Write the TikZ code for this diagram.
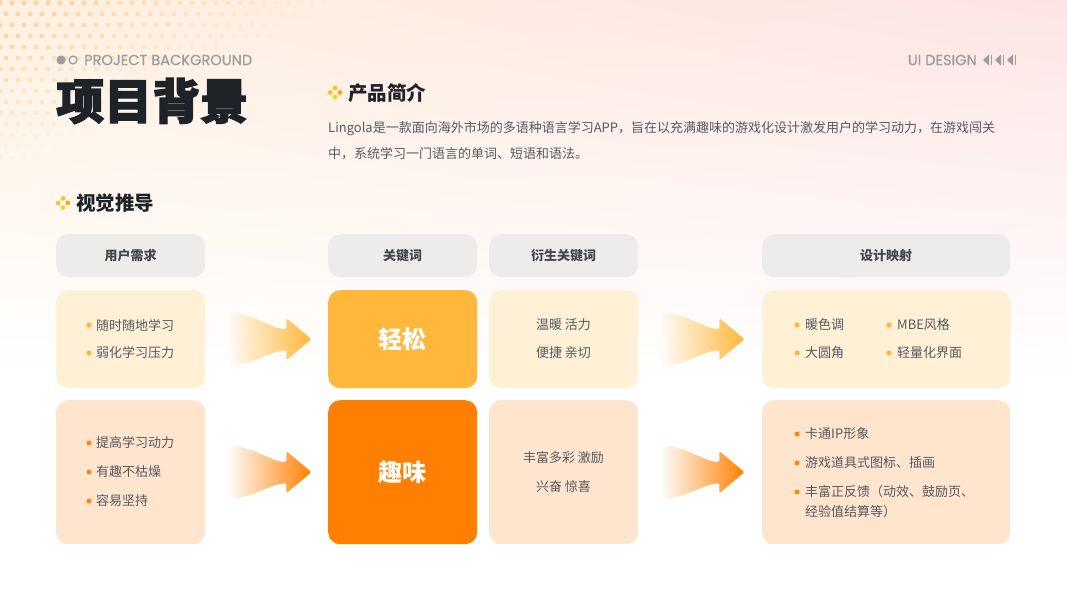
\documentclass[tikz,border=0pt]{standalone}
\usepackage{fontspec}
\setmainfont{Noto Sans CJK SC}
\newfontfamily\heavyfont{Noto Sans CJK SC Black}[RawFeature={embolden=2.5}]
\newfontfamily\popfont{Poppins}[RawFeature={embolden=0.6}]
\usetikzlibrary{calc,fadings,shadings}
\definecolor{bgTL}{HTML}{FEF1E0}
\definecolor{bgTR}{HTML}{FDE4E4}
\definecolor{dotc}{HTML}{FBD39C}
\definecolor{graytxt}{HTML}{9C9C9C}
\definecolor{darktxt}{HTML}{1E2329}
\definecolor{bodytxt}{HTML}{555A60}
\definecolor{hdrfill}{HTML}{EDECEA}
\definecolor{hdrtxt}{HTML}{43464B}
\definecolor{rowA}{HTML}{FFF0D6}
\definecolor{rowB}{HTML}{FFE5CE}
\definecolor{keyA}{HTML}{FFB83B}
\definecolor{keyB}{HTML}{FF8000}
\definecolor{bulA}{HTML}{FFB530}
\definecolor{bulB}{HTML}{FF8412}
\definecolor{icA}{HTML}{FFC21F}
\definecolor{icB}{HTML}{FFA412}
\tikzfading[name=arrowfade, left color=transparent!100, middle color=transparent!70, right color=transparent!0]
\begin{document}
\begin{tikzpicture}[x=1pt,y=-1pt,
  hdr/.style={rounded corners=12pt, fill=hdrfill, inner sep=0pt, minimum height=43pt, anchor=north west,
    font=\bfseries\fontsize{13}{13}\selectfont, text=hdrtxt},
  card/.style={rounded corners=12pt, inner sep=0pt, anchor=north west},
  keytxt/.style={text=white, font=\bfseries\fontsize{24}{24}\selectfont},
  bodyt/.style={inner sep=0pt, font=\fontsize{13}{13}\selectfont, text=bodytxt},
  bult/.style={bodyt, anchor=west},
  bdot/.style={circle, inner sep=0pt, minimum size=5pt},
  sect/.style={anchor=west, inner sep=0pt, font=\bfseries\fontsize{19.5}{19.5}\selectfont, text=darktxt},
  pics/quaddots/.style={code={
    \fill[icA] (0,-4.6) circle (2.4);
    \fill[icB] (4.8,0) circle (2.4);
    \fill[icA] (-4.8,0) circle (2.4);
    \fill[icA!80!yellow] (0,4.6) circle (2.4);
  }}
]
\useasboundingbox (0,0) rectangle (1067,600);
% background
\fill[white] (0,0) rectangle (1067,600);
\shade[upper left=bgTL, upper right=bgTR, lower left=white, lower right=white] (0,0) rectangle (1067,380);
\foreach \j in {0,...,14}{
  \foreach \i in {0,...,27}{
    \pgfmathsetmacro\xx{\i*12+mod(\j,2)*6}
    \pgfmathsetmacro\yy{\j*11+3}
    \pgfmathsetmacro\op{max(0,min(1,1.1-\xx/310-\yy/160))}
    \fill[dotc, opacity=\op] (\xx,\yy) circle (2.4);
  }
}
% top labels
\fill[graytxt] (61,60) circle (4.6);
\draw[graytxt, line width=1.3pt] (73,60) circle (3.9);
\node[anchor=west, inner sep=0pt, font=\popfont\fontsize{14.6}{14.6}\selectfont, text=graytxt] (pb) at (84,60) {PROJECT BACKGROUND};
\node[anchor=east, inner sep=0pt, font=\popfont\fontsize{14.6}{14.6}\selectfont, text=graytxt] (uid) at (977,60) {UI DESIGN};
\foreach \t in {983,995,1007}{
  \fill[graytxt] (\t,60) -- (\t+6,54.5) -- (\t+6,65.5) -- cycle;
  \fill[graytxt] (\t+7.5,55) rectangle (\t+9,65);
}
\node[anchor=west, inner sep=0pt, font=\heavyfont\fontsize{48}{48}\selectfont, text=darktxt] (title) at (56,101) {项目背景};
% product intro
\pic at (335,92.5) {quaddots};
\node[sect] (s1) at (348,93) {产品简介};
\node[bult] (p1) at (328,129) {Lingola是一款面向海外市场的多语种语言学习APP，旨在以充满趣味的游戏化设计激发用户的学习动力，在游戏闯关};
\node[bult] (p2) at (328,154) {中，系统学习一门语言的单词、短语和语法。};
% visual derivation
\pic at (63,203) {quaddots};
\node[sect] (s2) at (76,203) {视觉推导};
% headers
\node[hdr, minimum width=149pt] (h1) at (56,234) {用户需求};
\node[hdr, minimum width=149pt] (h2) at (328,234) {关键词};
\node[hdr, minimum width=149pt] (h3) at (489,234) {衍生关键词};
\node[hdr, minimum width=248pt] (h4) at (762,234) {设计映射};
% row 1
\node[card, fill=rowA, minimum width=149pt, minimum height=98pt] (u1) at (56,290) {};
\node[card, fill=keyA, minimum width=149pt, minimum height=98pt] (k1) at (328,290) {};
\node[card, fill=rowA, minimum width=149pt, minimum height=98pt] (d1) at (489,290) {};
\node[card, fill=rowA, minimum width=248pt, minimum height=98pt] (m1) at (762,290) {};
% row 2
\node[card, fill=rowB, minimum width=149pt, minimum height=144pt] (u2) at (56,400) {};
\node[card, fill=keyB, minimum width=149pt, minimum height=144pt] (k2) at (328,400) {};
\node[card, fill=rowB, minimum width=149pt, minimum height=144pt] (d2) at (489,400) {};
\node[card, fill=rowB, minimum width=248pt, minimum height=144pt] (m2) at (762,400) {};
% key words
\node[keytxt] (kt1) at (k1.center) {轻松};
\node[keytxt] (kt2) at (k2.center) {趣味};
% user needs
\node[bdot, fill=bulA] (ub1) at (89,325) {};
\node[bult] (ut1) at (96,325) {随时随地学习};
\node[bdot, fill=bulA] (ub2) at (89,353) {};
\node[bult] (ut2) at (96,353) {弱化学习压力};
\node[bdot, fill=bulB] (ub3) at (89,443) {};
\node[bult] (ut3) at (96,443) {提高学习动力};
\node[bdot, fill=bulB] (ub4) at (89,472) {};
\node[bult] (ut4) at (96,472) {有趣不枯燥};
\node[bdot, fill=bulB] (ub5) at (89,501) {};
\node[bult] (ut5) at (96,501) {容易坚持};
% derived keywords
\node[bodyt] (dt1) at (563.5,325) {温暖 活力};
\node[bodyt] (dt2) at (563.5,353) {便捷 亲切};
\node[bodyt] (dt3) at (563.5,458) {丰富多彩 激励};
\node[bodyt] (dt4) at (563.5,487) {兴奋 惊喜};
% design mapping
\node[bdot, fill=bulA] (mb1) at (797,325) {};
\node[bult] (mt1) at (805,325) {暖色调};
\node[bdot, fill=bulA] (mb2) at (797,353) {};
\node[bult] (mt2) at (805,353) {大圆角};
\node[bdot, fill=bulA] (mb3) at (889,325) {};
\node[bult] (mt3) at (897,325) {MBE风格};
\node[bdot, fill=bulA] (mb4) at (889,353) {};
\node[bult] (mt4) at (897,353) {轻量化界面};
\node[bdot, fill=bulB] (mb5) at (797,434) {};
\node[bult] (mt5) at (805,434) {卡通IP形象};
\node[bdot, fill=bulB] (mb6) at (797,463) {};
\node[bult] (mt6) at (805,463) {游戏道具式图标、插画};
\node[bdot, fill=bulB] (mb7) at (797,492) {};
\node[bult] (mt7) at (805,492) {丰富正反馈（动效、鼓励页、};
\node[bult] (mt8) at (805,512) {经验值结算等）};
% flow arrows
\foreach \src/\dst/\col in {u1/k1/keyA, d1/m1/keyA, u2/k2/keyB, d2/m2/keyB}{
  \begin{scope}[shift={($(\src.east)+(22,0)$)}]
    \fill[\col, path fading=arrowfade, rounded corners=1.5pt]
      (0,-27) .. controls (28,-25) and (42,-11) .. (59,-10) -- (59,-21) -- (84,0) -- (59,21) -- (59,11)
      .. controls (42,12) and (28,25) .. (0,27) -- cycle;
  \end{scope}
}
\end{tikzpicture}
\end{document}
